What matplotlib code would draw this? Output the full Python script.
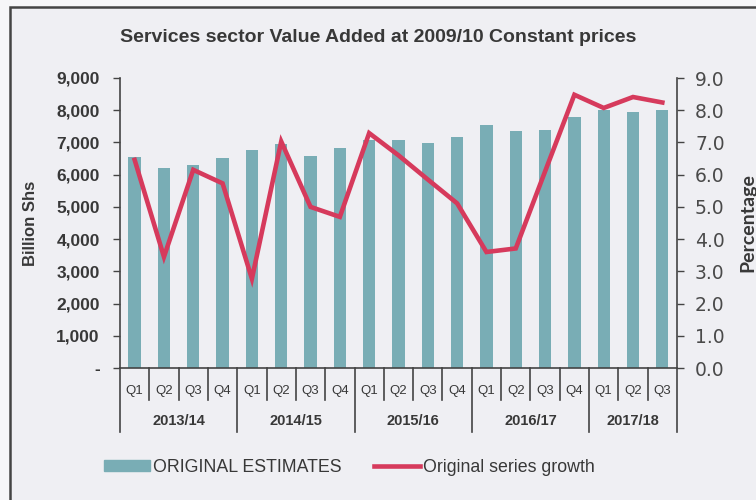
import matplotlib
matplotlib.use("Agg")
import matplotlib.pyplot as plt
from matplotlib.lines import Line2D
from matplotlib.patches import Rectangle
import matplotlib.transforms as mtransforms

# Quarterly services value added (billion Shs) and growth (%)
years = ["2013/14", "2014/15", "2015/16", "2016/17", "2017/18"]
quarters_per_year = [4, 4, 4, 4, 3]
quarter_labels = ["Q1", "Q2", "Q3", "Q4"] * 4 + ["Q1", "Q2", "Q3"]
value_added = [6560, 6200, 6300, 6510, 6770, 6950, 6580, 6820, 7080, 7080,
               6980, 7180, 7550, 7340, 7390, 7780, 8010, 7960, 8000]
growth = [6.46, 3.45, 6.15, 5.73, 2.77, 7.03, 5.00, 4.69, 7.29, 6.60,
          5.85, 5.11, 3.60, 3.71, 6.10, 8.48, 8.07, 8.41, 8.24]
left_ticks = [0, 1000, 2000, 3000, 4000, 5000, 6000, 7000, 8000, 9000]
left_tick_labels = ["-", "1,000", "2,000", "3,000", "4,000", "5,000",
                    "6,000", "7,000", "8,000", "9,000"]
right_ticks = [0, 1, 2, 3, 4, 5, 6, 7, 8, 9]

BAR = "#79adb5"
LINE = "#d63a5c"
TXT = "#383838"
BG = "#efeff3"
AXC = "#444444"

plt.rcParams["font.family"] = ["Liberation Sans", "DejaVu Sans"]

fig = plt.figure(figsize=(7.56, 5.0), dpi=100, facecolor="#f6f6f8")
# chart frame, running off the right edge of the page
fig.patches.append(Rectangle((0.0135, -0.01), 1.0, 0.996, transform=fig.transFigure,
                             facecolor=BG, edgecolor=AXC, linewidth=1.8, zorder=-5))

ax = fig.add_axes([0.1587, 0.264, 0.7368, 0.58])
ax.set_facecolor(BG)
x = list(range(len(value_added)))
ax.bar(x, value_added, width=0.42, color=BAR, zorder=2)
ax.set_xlim(-0.5, len(x) - 0.5)
ax.set_ylim(0, 9000)
ax.set_yticks(left_ticks)
ax.set_yticklabels(left_tick_labels, fontsize=12.5, fontweight="bold", color=TXT)
ax.set_xticks([])
for s in ["top", "right"]:
    ax.spines[s].set_visible(False)
for s in ["left", "bottom"]:
    ax.spines[s].set_color(AXC)
    ax.spines[s].set_linewidth(1.2)
ax.tick_params(axis="y", direction="out", length=5, width=1.0, color=AXC, pad=9.5)
ax.set_ylabel("Billion Shs", fontsize=12, fontweight="bold", color=TXT)
ax.yaxis.set_label_coords(-0.148, 0.5)

ax2 = ax.twinx()
ax2.plot(x, growth, color=LINE, linewidth=3.3, solid_joinstyle="miter", zorder=3)
ax2.set_ylim(0, 9)
ax2.set_yticks(right_ticks)
ax2.set_yticklabels([f"{v:.1f}" for v in right_ticks], fontsize=13.5,
                    family=["DejaVu Sans"], color="#4a4a4a")
for s in ["top", "left", "bottom"]:
    ax2.spines[s].set_visible(False)
ax2.spines["right"].set_color(AXC)
ax2.spines["right"].set_linewidth(1.2)
ax2.tick_params(axis="y", direction="out", length=5, width=1.0, color=AXC, pad=8)
ax2.set_ylabel("Percentage", fontsize=14, fontweight="bold", color=TXT,
               family=["Lato", "DejaVu Sans"])
ax2.yaxis.set_label_coords(1.112, 0.5)

# Two-level category axis: quarters, then fiscal years
trans = mtransforms.blended_transform_factory(ax.transData, ax.transAxes)
for i, q in enumerate(quarter_labels):
    ax.text(i, -0.078, q, transform=trans, ha="center", va="center",
            fontsize=9.5, color=TXT)
start = 0
boundaries = []
for yr, n in zip(years, quarters_per_year):
    ax.text(start + (n - 1) / 2, -0.183, yr, transform=trans, ha="center",
            va="center", fontsize=10.5, fontweight="bold", color=TXT)
    boundaries.append(start - 0.5)
    start += n
boundaries.append(start - 0.5)
for b in range(len(x) + 1):
    pos = b - 0.5
    y_end = -0.22 if pos in boundaries else -0.11
    ax.add_line(Line2D([pos, pos], [0, y_end], transform=trans, color=AXC,
                       linewidth=1.2, clip_on=False))

fig.text(0.5, 0.924, "Services sector Value Added at 2009/10 Constant prices",
         ha="center", va="center", fontsize=14, fontweight="bold", color=TXT)

handles = [Rectangle((0, 0), 1, 1, color=BAR),
           Line2D([], [], color=LINE, linewidth=3.3)]
fig.legend(handles, ["ORIGINAL ESTIMATES", "Original series growth"],
           loc="center", bbox_to_anchor=(0.462, 0.066), ncol=2, frameon=False,
           fontsize=12.8, handlelength=2.6, handleheight=0.55, handletextpad=0.15,
           columnspacing=1.8, labelcolor=TXT)

fig.savefig("out.png", dpi=100, facecolor=fig.get_facecolor())
